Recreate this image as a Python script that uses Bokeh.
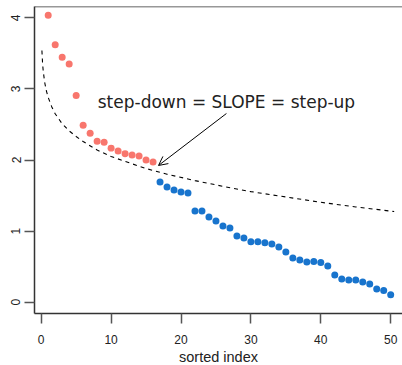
from bokeh.plotting import figure
from bokeh.models import Range1d, FixedTicker, Span, Arrow, OpenHead, Label, Title
from bokeh.embed import file_html
from bokeh.resources import INLINE

# Sorted absolute coefficient estimates (index 1..50)
sorted_index = list(range(1, 51))
estimates = [
    4.035, 3.62, 3.445, 3.35, 2.907, 2.49, 2.378, 2.265, 2.25, 2.167,
    2.125, 2.088, 2.069, 2.055, 1.999, 1.971, 1.69, 1.62, 1.578, 1.55,
    1.535, 1.282, 1.282, 1.198, 1.142, 1.072, 1.043, 0.931, 0.903, 0.85,
    0.85, 0.835, 0.819, 0.777, 0.707, 0.622, 0.594, 0.566, 0.571, 0.557,
    0.51, 0.384, 0.327, 0.313, 0.313, 0.285, 0.257, 0.187, 0.164, 0.103,
]
n_selected = 16  # leading estimates above the SLOPE threshold

# SLOPE regularisation sequence (dashed reference curve)
lambda_x = [0.1, 0.2, 0.3, 0.5, 0.75, 1, 1.5, 2, 3, 4, 5, 6, 8, 10, 12, 15,
            18, 22, 26, 30, 35, 40, 45, 50.5]
lambda_y = [3.54, 3.35, 3.24, 3.09, 2.97, 2.88, 2.75, 2.65, 2.51, 2.41, 2.33,
            2.26, 2.14, 2.05, 1.98, 1.88, 1.80, 1.71, 1.63, 1.555, 1.48,
            1.405, 1.34, 1.275]

x_ticks = [0, 10, 20, 30, 40, 50]
y_ticks = [0, 1, 2, 3, 4]
x_title = "sorted index"
annotation = "step-down = SLOPE = step-up"

RED = "#F8766D"
BLUE = "#1874CD"
AXIS = "#333333"

p = figure(width=402, height=365, output_backend="svg", toolbar_location=None,
           x_range=Range1d(-0.96, 51.69), y_range=Range1d(-0.159, 4.159),
           min_border_left=34, min_border_right=0, min_border_top=6,
           min_border_bottom=52)
p.outline_line_color = None
p.grid.visible = False
p.background_fill_color = "white"
p.border_fill_color = "white"

# dashed lambda sequence
p.line(lambda_x, lambda_y, line_color="black", line_width=1.1, line_dash="4 4")

# points: selected (red) and the rest (blue)
p.scatter(sorted_index[:n_selected], estimates[:n_selected], size=7,
          fill_color=RED, line_color=None)
p.scatter(sorted_index[n_selected:], estimates[n_selected:], size=7,
          fill_color=BLUE, line_color=None)

# annotation with arrow
p.add_layout(Label(x=26.5, y=2.81, text=annotation, text_align="center",
                   text_baseline="middle", text_font="DejaVu Sans",
                   text_font_size="17px", text_color="#222222"))
p.add_layout(Arrow(x_start=26.5, y_start=2.654, x_end=16.78, y_end=1.923,
                   line_color="black", line_width=1,
                   end=OpenHead(size=9, line_color="black", line_width=1)))

# top edge of the box
p.add_layout(Span(location=4.159, dimension="width", line_color=AXIS,
                  line_width=1.5))

for ax in (p.xaxis[0], p.yaxis[0]):
    ax.axis_line_color = AXIS
    ax.axis_line_width = 1.5
    ax.major_tick_line_color = "#555555"
    ax.major_tick_line_width = 1.5
    ax.major_tick_out = 10
    ax.major_tick_in = 0
    ax.minor_tick_line_color = None
    ax.major_label_text_font = "Liberation Sans"
    ax.major_label_text_font_size = "12px"
    ax.major_label_text_color = "#222222"

p.xaxis.ticker = FixedTicker(ticks=x_ticks)
p.yaxis.ticker = FixedTicker(ticks=y_ticks)
p.xaxis.major_label_standoff = 11
p.yaxis.major_label_standoff = 4
p.yaxis.major_label_orientation = "vertical"

# x-axis title below the tick labels
p.add_layout(Title(text=x_title, align="center", standoff=0,
                   text_font="Liberation Sans", text_font_size="14.5px",
                   text_font_style="normal", text_color="#222222"), "below")

open("out.html", "w").write(file_html(p, INLINE))
